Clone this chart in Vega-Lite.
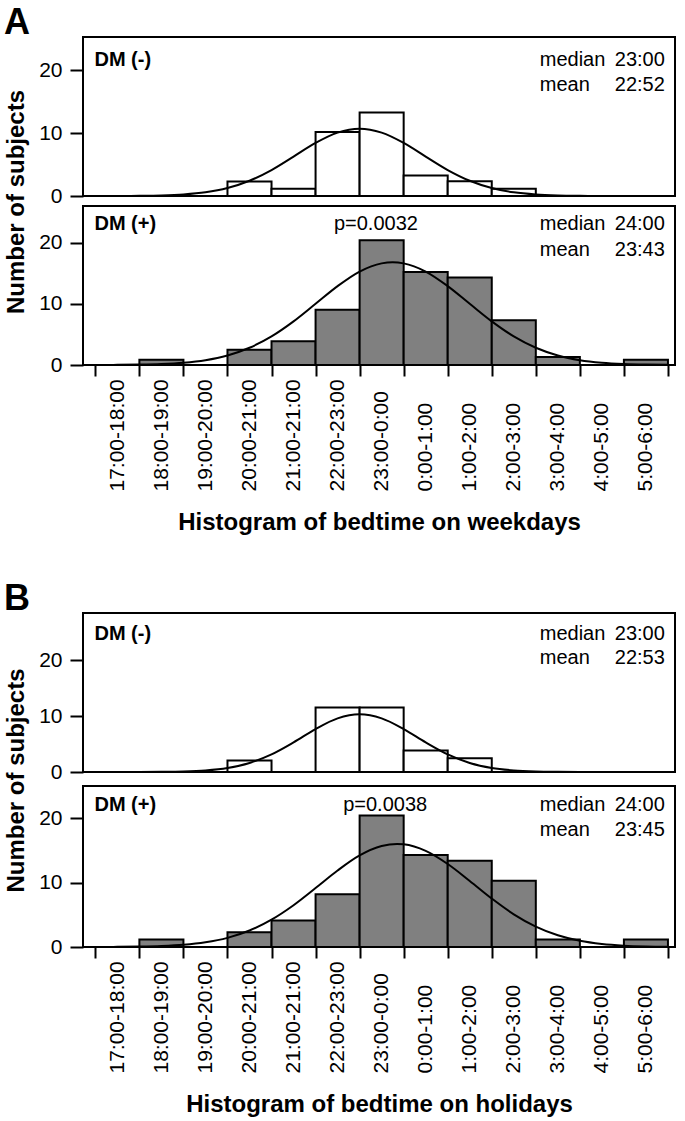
{
  "$schema": "https://vega.github.io/schema/vega-lite/v6.json",
  "padding": {"left": 3, "right": 5, "top": 4, "bottom": 2},
  "background": "white",
  "config": {
    "view": {"stroke": "black", "strokeWidth": 2},
    "font": "Liberation Sans",
    "axis": {"grid": false, "domain": false, "tickColor": "black", "tickWidth": 2, "labelColor": "black", "labelFont": "Liberation Sans", "labelFontSize": 21, "titleFont": "Liberation Sans", "titleFontSize": 24, "titleFontWeight": "bold", "titleColor": "black"},
    "title": {"font": "Liberation Sans", "fontSize": 36, "fontWeight": "bold", "color": "black", "anchor": "start", "frame": "bounds", "offset": -5},
    "text": {"font": "Liberation Sans", "fontSize": 20, "color": "black"}
  },
  "datasets": {
    "bars": [
      {"p": "A-", "h": 20, "h2": 21, "c": 2.3},
      {"p": "A-", "h": 21, "h2": 22, "c": 1.15},
      {"p": "A-", "h": 22, "h2": 23, "c": 10.2},
      {"p": "A-", "h": 23, "h2": 24, "c": 13.3},
      {"p": "A-", "h": 24, "h2": 25, "c": 3.25},
      {"p": "A-", "h": 25, "h2": 26, "c": 2.35},
      {"p": "A-", "h": 26, "h2": 27, "c": 1.15},
      {"p": "A+", "h": 18, "h2": 19, "c": 0.85},
      {"p": "A+", "h": 20, "h2": 21, "c": 2.5},
      {"p": "A+", "h": 21, "h2": 22, "c": 3.9},
      {"p": "A+", "h": 22, "h2": 23, "c": 9.05},
      {"p": "A+", "h": 23, "h2": 24, "c": 20.4},
      {"p": "A+", "h": 24, "h2": 25, "c": 15.2},
      {"p": "A+", "h": 25, "h2": 26, "c": 14.3},
      {"p": "A+", "h": 26, "h2": 27, "c": 7.3},
      {"p": "A+", "h": 27, "h2": 28, "c": 1.3},
      {"p": "A+", "h": 29, "h2": 30, "c": 0.85},
      {"p": "B-", "h": 20, "h2": 21, "c": 2.05},
      {"p": "B-", "h": 22, "h2": 23, "c": 11.5},
      {"p": "B-", "h": 23, "h2": 24, "c": 11.5},
      {"p": "B-", "h": 24, "h2": 25, "c": 3.85},
      {"p": "B-", "h": 25, "h2": 26, "c": 2.45},
      {"p": "B+", "h": 18, "h2": 19, "c": 1.15},
      {"p": "B+", "h": 20, "h2": 21, "c": 2.3},
      {"p": "B+", "h": 21, "h2": 22, "c": 4.1},
      {"p": "B+", "h": 22, "h2": 23, "c": 8.2},
      {"p": "B+", "h": 23, "h2": 24, "c": 20.4},
      {"p": "B+", "h": 24, "h2": 25, "c": 14.3},
      {"p": "B+", "h": 25, "h2": 26, "c": 13.4},
      {"p": "B+", "h": 26, "h2": 27, "c": 10.3},
      {"p": "B+", "h": 27, "h2": 28, "c": 1.15},
      {"p": "B+", "h": 29, "h2": 30, "c": 1.15}
    ],
    "curves": [
      {"p": "A-", "h": 17, "c": 0.002}, {"p": "A-", "h": 17.5, "c": 0.008}, {"p": "A-", "h": 18, "c": 0.028}, {"p": "A-", "h": 18.5, "c": 0.087}, {"p": "A-", "h": 19, "c": 0.24}, {"p": "A-", "h": 19.5, "c": 0.58}, {"p": "A-", "h": 20, "c": 1.26}, {"p": "A-", "h": 20.5, "c": 2.42}, {"p": "A-", "h": 21, "c": 4.13}, {"p": "A-", "h": 21.5, "c": 6.27}, {"p": "A-", "h": 22, "c": 8.44}, {"p": "A-", "h": 22.5, "c": 10.08}, {"p": "A-", "h": 23, "c": 10.7}, {"p": "A-", "h": 23.5, "c": 10.08}, {"p": "A-", "h": 24, "c": 8.44}, {"p": "A-", "h": 24.5, "c": 6.27}, {"p": "A-", "h": 25, "c": 4.13}, {"p": "A-", "h": 25.5, "c": 2.42}, {"p": "A-", "h": 26, "c": 1.26}, {"p": "A-", "h": 26.5, "c": 0.58}, {"p": "A-", "h": 27, "c": 0.24}, {"p": "A-", "h": 27.5, "c": 0.087}, {"p": "A-", "h": 28, "c": 0.028}, {"p": "A-", "h": 28.5, "c": 0.008}, {"p": "A-", "h": 29, "c": 0.002}, {"p": "A-", "h": 29.5, "c": 0}, {"p": "A-", "h": 30, "c": 0},
      {"p": "A+", "h": 17, "c": 0.008}, {"p": "A+", "h": 17.5, "c": 0.023}, {"p": "A+", "h": 18, "c": 0.063}, {"p": "A+", "h": 18.5, "c": 0.16}, {"p": "A+", "h": 19, "c": 0.37}, {"p": "A+", "h": 19.5, "c": 0.79}, {"p": "A+", "h": 20, "c": 1.56}, {"p": "A+", "h": 20.5, "c": 2.82}, {"p": "A+", "h": 21, "c": 4.68}, {"p": "A+", "h": 21.5, "c": 7.14}, {"p": "A+", "h": 22, "c": 10.01}, {"p": "A+", "h": 22.5, "c": 12.9}, {"p": "A+", "h": 23, "c": 15.28}, {"p": "A+", "h": 23.5, "c": 16.62}, {"p": "A+", "h": 23.75, "c": 16.8}, {"p": "A+", "h": 24, "c": 16.62}, {"p": "A+", "h": 24.5, "c": 15.28}, {"p": "A+", "h": 25, "c": 12.9}, {"p": "A+", "h": 25.5, "c": 10.01}, {"p": "A+", "h": 26, "c": 7.14}, {"p": "A+", "h": 26.5, "c": 4.68}, {"p": "A+", "h": 27, "c": 2.82}, {"p": "A+", "h": 27.5, "c": 1.56}, {"p": "A+", "h": 28, "c": 0.79}, {"p": "A+", "h": 28.5, "c": 0.37}, {"p": "A+", "h": 29, "c": 0.16}, {"p": "A+", "h": 29.5, "c": 0.063}, {"p": "A+", "h": 30, "c": 0.023},
      {"p": "B-", "h": 17, "c": 0}, {"p": "B-", "h": 17.5, "c": 0.001}, {"p": "B-", "h": 18, "c": 0.006}, {"p": "B-", "h": 18.5, "c": 0.026}, {"p": "B-", "h": 19, "c": 0.09}, {"p": "B-", "h": 19.5, "c": 0.28}, {"p": "B-", "h": 20, "c": 0.72}, {"p": "B-", "h": 20.5, "c": 1.62}, {"p": "B-", "h": 21, "c": 3.15}, {"p": "B-", "h": 21.5, "c": 5.29}, {"p": "B-", "h": 22, "c": 7.66}, {"p": "B-", "h": 22.5, "c": 9.57}, {"p": "B-", "h": 23, "c": 10.3}, {"p": "B-", "h": 23.5, "c": 9.57}, {"p": "B-", "h": 24, "c": 7.66}, {"p": "B-", "h": 24.5, "c": 5.29}, {"p": "B-", "h": 25, "c": 3.15}, {"p": "B-", "h": 25.5, "c": 1.62}, {"p": "B-", "h": 26, "c": 0.72}, {"p": "B-", "h": 26.5, "c": 0.28}, {"p": "B-", "h": 27, "c": 0.09}, {"p": "B-", "h": 27.5, "c": 0.026}, {"p": "B-", "h": 28, "c": 0.006}, {"p": "B-", "h": 28.5, "c": 0.001}, {"p": "B-", "h": 29, "c": 0}, {"p": "B-", "h": 29.5, "c": 0}, {"p": "B-", "h": 30, "c": 0},
      {"p": "B+", "h": 17, "c": 0.008}, {"p": "B+", "h": 17.5, "c": 0.022}, {"p": "B+", "h": 18, "c": 0.06}, {"p": "B+", "h": 18.5, "c": 0.15}, {"p": "B+", "h": 19, "c": 0.34}, {"p": "B+", "h": 19.5, "c": 0.73}, {"p": "B+", "h": 20, "c": 1.42}, {"p": "B+", "h": 20.5, "c": 2.56}, {"p": "B+", "h": 21, "c": 4.25}, {"p": "B+", "h": 21.5, "c": 6.49}, {"p": "B+", "h": 22, "c": 9.15}, {"p": "B+", "h": 22.5, "c": 11.88}, {"p": "B+", "h": 23, "c": 14.22}, {"p": "B+", "h": 23.5, "c": 15.68}, {"p": "B+", "h": 23.85, "c": 16.0}, {"p": "B+", "h": 24, "c": 15.94}, {"p": "B+", "h": 24.5, "c": 14.93}, {"p": "B+", "h": 25, "c": 12.89}, {"p": "B+", "h": 25.5, "c": 10.26}, {"p": "B+", "h": 26, "c": 7.52}, {"p": "B+", "h": 26.5, "c": 5.08}, {"p": "B+", "h": 27, "c": 3.17}, {"p": "B+", "h": 27.5, "c": 1.82}, {"p": "B+", "h": 28, "c": 0.96}, {"p": "B+", "h": 28.5, "c": 0.47}, {"p": "B+", "h": 29, "c": 0.21}, {"p": "B+", "h": 29.5, "c": 0.087}, {"p": "B+", "h": 30, "c": 0.033}
    ]
  },
  "spacing": 45,
  "vconcat": [
    {
      "spacing": 10,
      "bounds": "flush",
      "vconcat": [
        {
          "width": 592, "height": 159,
          "title": {"text": "A"},
          "layer": [
            {"data": {"name": "bars"}, "transform": [{"filter": "datum.p == 'A-'"}], "mark": {"type": "rect", "fill": "white", "stroke": "black", "strokeWidth": 2},
             "encoding": {
               "x": {"field": "h", "type": "quantitative", "scale": {"domain": [16.72, 30.16], "nice": false, "zero": false}, "axis": null},
               "x2": {"field": "h2"},
               "y": {"field": "c", "type": "quantitative", "scale": {"domain": [0, 25.3], "nice": false}, "axis": {"values": [0, 5, 10, 15, 20, 25], "labelExpr": "datum.value % 10 == 0 ? datum.label : ''", "tickSize": 13, "labelPadding": 8, "title": "Number of subjects", "titleX": -67, "titleY": 164.5, "titleAngle": 270, "titleAlign": "center", "titleBaseline": "middle"}},
               "y2": {"datum": 0}}},
            {"data": {"name": "curves"}, "transform": [{"filter": "datum.p == 'A-'"}], "mark": {"type": "line", "color": "black", "strokeWidth": 2, "interpolate": "monotone"},
             "encoding": {"x": {"field": "h", "type": "quantitative", "axis": null}, "y": {"field": "c", "type": "quantitative"}}},
            {"data": {"values": [{}]}, "mark": {"type": "text", "text": "DM (-)", "fontWeight": "bold", "align": "left", "baseline": "middle"}, "encoding": {"x": {"datum": 16.98, "type": "quantitative", "axis": null}, "y": {"datum": 21.7, "type": "quantitative"}}},
            {"data": {"values": [{}]}, "mark": {"type": "text", "text": ["median", "mean"], "lineHeight": 24.5, "align": "left", "baseline": "middle"}, "encoding": {"x": {"datum": 27.09, "type": "quantitative", "axis": null}, "y": {"datum": 21.6, "type": "quantitative"}}},
            {"data": {"values": [{}]}, "mark": {"type": "text", "text": ["23:00", "22:52"], "lineHeight": 24.5, "align": "right", "baseline": "middle"}, "encoding": {"x": {"datum": 29.93, "type": "quantitative", "axis": null}, "y": {"datum": 21.6, "type": "quantitative"}}}
          ]
        },
        {
          "width": 592, "height": 159,
          "layer": [
            {"data": {"name": "bars"}, "transform": [{"filter": "datum.p == 'A+'"}], "mark": {"type": "rect", "fill": "#808080", "stroke": "black", "strokeWidth": 2},
             "encoding": {
               "x": {"field": "h", "type": "quantitative", "scale": {"domain": [16.72, 30.16], "nice": false, "zero": false}, "axis": {"values": [17, 18, 19, 20, 21, 22, 23, 24, 25, 26, 27, 28, 29, 30], "labelExpr": "datum.value >= 30 ? '' : datum.value == 21 ? '21:00-21:00' : (datum.value % 24) + ':00-' + ((datum.value + 1) % 24) + ':00'", "labelAngle": -90, "labelAlign": "left", "labelBaseline": "middle", "labelOffset": 22, "labelPadding": 115, "tickSize": 11, "labelOverlap": false, "labelFlush": false, "labelBound": false, "title": "Histogram of bedtime on weekdays", "titleY": 157, "titleBaseline": "middle"}},
               "x2": {"field": "h2"},
               "y": {"field": "c", "type": "quantitative", "scale": {"domain": [0, 26], "nice": false}, "axis": {"values": [0, 5, 10, 15, 20, 25], "labelExpr": "datum.value % 10 == 0 ? datum.label : ''", "tickSize": 13, "labelPadding": 8, "title": null}},
               "y2": {"datum": 0}}},
            {"data": {"name": "curves"}, "transform": [{"filter": "datum.p == 'A+'"}], "mark": {"type": "line", "color": "black", "strokeWidth": 2, "interpolate": "monotone"},
             "encoding": {"x": {"field": "h", "type": "quantitative"}, "y": {"field": "c", "type": "quantitative"}}},
            {"data": {"values": [{}]}, "mark": {"type": "text", "text": "DM (+)", "fontWeight": "bold", "align": "left", "baseline": "middle"}, "encoding": {"x": {"datum": 16.98, "type": "quantitative"}, "y": {"datum": 23.0, "type": "quantitative"}}},
            {"data": {"values": [{}]}, "mark": {"type": "text", "text": "p=0.0032", "align": "center", "baseline": "middle"}, "encoding": {"x": {"datum": 23.37, "type": "quantitative"}, "y": {"datum": 23.0, "type": "quantitative"}}},
            {"data": {"values": [{}]}, "mark": {"type": "text", "text": ["median", "mean"], "lineHeight": 25.5, "align": "left", "baseline": "middle"}, "encoding": {"x": {"datum": 27.09, "type": "quantitative"}, "y": {"datum": 23.0, "type": "quantitative"}}},
            {"data": {"values": [{}]}, "mark": {"type": "text", "text": ["24:00", "23:43"], "lineHeight": 25.5, "align": "right", "baseline": "middle"}, "encoding": {"x": {"datum": 29.93, "type": "quantitative"}, "y": {"datum": 23.0, "type": "quantitative"}}}
          ]
        }
      ]
    },
    {
      "spacing": 14,
      "bounds": "flush",
      "vconcat": [
        {
          "width": 592, "height": 159,
          "title": {"text": "B"},
          "layer": [
            {"data": {"name": "bars"}, "transform": [{"filter": "datum.p == 'B-'"}], "mark": {"type": "rect", "fill": "white", "stroke": "black", "strokeWidth": 2},
             "encoding": {
               "x": {"field": "h", "type": "quantitative", "scale": {"domain": [16.72, 30.16], "nice": false, "zero": false}, "axis": null},
               "x2": {"field": "h2"},
               "y": {"field": "c", "type": "quantitative", "scale": {"domain": [0, 28.4], "nice": false}, "axis": {"values": [0, 5, 10, 15, 20, 25], "labelExpr": "datum.value % 10 == 0 ? datum.label : ''", "tickSize": 13, "labelPadding": 8, "title": "Number of subjects", "titleX": -67, "titleY": 167, "titleAngle": 270, "titleAlign": "center", "titleBaseline": "middle"}},
               "y2": {"datum": 0}}},
            {"data": {"name": "curves"}, "transform": [{"filter": "datum.p == 'B-'"}], "mark": {"type": "line", "color": "black", "strokeWidth": 2, "interpolate": "monotone"},
             "encoding": {"x": {"field": "h", "type": "quantitative", "axis": null}, "y": {"field": "c", "type": "quantitative"}}},
            {"data": {"values": [{}]}, "mark": {"type": "text", "text": "DM (-)", "fontWeight": "bold", "align": "left", "baseline": "middle"}, "encoding": {"x": {"datum": 16.98, "type": "quantitative", "axis": null}, "y": {"datum": 24.7, "type": "quantitative"}}},
            {"data": {"values": [{}]}, "mark": {"type": "text", "text": ["median", "mean"], "lineHeight": 24.5, "align": "left", "baseline": "middle"}, "encoding": {"x": {"datum": 27.09, "type": "quantitative", "axis": null}, "y": {"datum": 24.7, "type": "quantitative"}}},
            {"data": {"values": [{}]}, "mark": {"type": "text", "text": ["23:00", "22:53"], "lineHeight": 24.5, "align": "right", "baseline": "middle"}, "encoding": {"x": {"datum": 29.93, "type": "quantitative", "axis": null}, "y": {"datum": 24.7, "type": "quantitative"}}}
          ]
        },
        {
          "width": 592, "height": 161,
          "layer": [
            {"data": {"name": "bars"}, "transform": [{"filter": "datum.p == 'B+'"}], "mark": {"type": "rect", "fill": "#808080", "stroke": "black", "strokeWidth": 2},
             "encoding": {
               "x": {"field": "h", "type": "quantitative", "scale": {"domain": [16.72, 30.16], "nice": false, "zero": false}, "axis": {"values": [17, 18, 19, 20, 21, 22, 23, 24, 25, 26, 27, 28, 29, 30], "labelExpr": "datum.value >= 30 ? '' : datum.value == 21 ? '21:00-21:00' : (datum.value % 24) + ':00-' + ((datum.value + 1) % 24) + ':00'", "labelAngle": -90, "labelAlign": "left", "labelBaseline": "middle", "labelOffset": 22, "labelPadding": 115, "tickSize": 11, "labelOverlap": false, "labelFlush": false, "labelBound": false, "title": "Histogram of bedtime on holidays", "titleY": 157, "titleBaseline": "middle"}},
               "x2": {"field": "h2"},
               "y": {"field": "c", "type": "quantitative", "scale": {"domain": [0, 25], "nice": false}, "axis": {"values": [0, 5, 10, 15, 20, 25], "labelExpr": "datum.value % 10 == 0 ? datum.label : ''", "tickSize": 13, "labelPadding": 8, "title": null}},
               "y2": {"datum": 0}}},
            {"data": {"name": "curves"}, "transform": [{"filter": "datum.p == 'B+'"}], "mark": {"type": "line", "color": "black", "strokeWidth": 2, "interpolate": "monotone"},
             "encoding": {"x": {"field": "h", "type": "quantitative"}, "y": {"field": "c", "type": "quantitative"}}},
            {"data": {"values": [{}]}, "mark": {"type": "text", "text": "DM (+)", "fontWeight": "bold", "align": "left", "baseline": "middle"}, "encoding": {"x": {"datum": 16.98, "type": "quantitative"}, "y": {"datum": 22.1, "type": "quantitative"}}},
            {"data": {"values": [{}]}, "mark": {"type": "text", "text": "p=0.0038", "align": "center", "baseline": "middle"}, "encoding": {"x": {"datum": 23.58, "type": "quantitative"}, "y": {"datum": 22.1, "type": "quantitative"}}},
            {"data": {"values": [{}]}, "mark": {"type": "text", "text": ["median", "mean"], "lineHeight": 25, "align": "left", "baseline": "middle"}, "encoding": {"x": {"datum": 27.09, "type": "quantitative"}, "y": {"datum": 22.1, "type": "quantitative"}}},
            {"data": {"values": [{}]}, "mark": {"type": "text", "text": ["24:00", "23:45"], "lineHeight": 25, "align": "right", "baseline": "middle"}, "encoding": {"x": {"datum": 29.93, "type": "quantitative"}, "y": {"datum": 22.1, "type": "quantitative"}}}
          ]
        }
      ]
    }
  ]
}
